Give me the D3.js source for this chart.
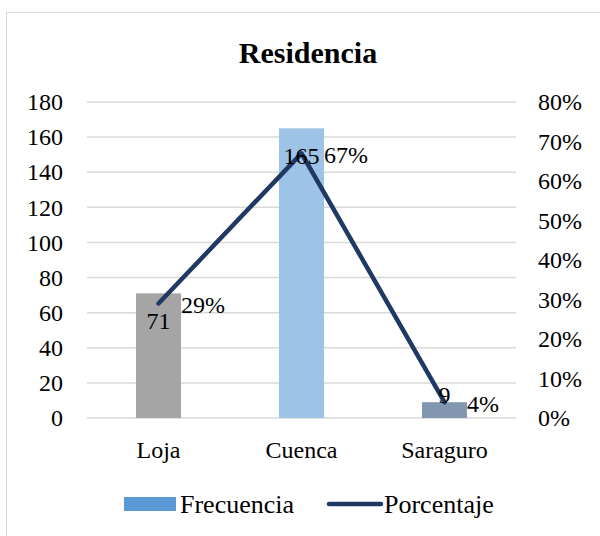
<!DOCTYPE html>
<html>
<head>
<meta charset="utf-8">
<script src="https://cdn.jsdelivr.net/npm/d3@7"></script>
<style>
  body { margin: 0; background: #fff; }
  text { font-family: "Liberation Serif", "Times New Roman", serif; fill: #000; }
</style>
</head>
<body>
<div id="chart"></div>
<script>
// datos
var categorias = ["Loja", "Cuenca", "Saraguro"];
var frecuencia = [71, 165, 9];
var porcentaje = [0.29, 0.67, 0.04];
var colores = ["#a5a5a5", "#9dc3e6", "#8497b0"];
var ticksIzq = [0, 20, 40, 60, 80, 100, 120, 140, 160, 180];
var ticksDer = [0, 0.1, 0.2, 0.3, 0.4, 0.5, 0.6, 0.7, 0.8];

var width = 600, height = 536;
var margin = {top: 102, right: 84, bottom: 118, left: 87};
var fuente = "Liberation Serif, Times New Roman, serif";

var svg = d3.select("#chart").append("svg")
    .attr("width", width)
    .attr("height", height);

// marco
svg.append("rect")
    .attr("x", 6.5).attr("y", 12.5)
    .attr("width", 620).attr("height", 540)
    .attr("fill", "none")
    .attr("stroke", "#d9d9d9");

var x = d3.scaleBand()
    .domain(categorias)
    .range([margin.left, width - margin.right])
    .paddingInner(0.685)
    .paddingOuter(0.3425);

var y = d3.scaleLinear()
    .domain([0, 180])
    .range([height - margin.bottom, margin.top]);

var y2 = d3.scaleLinear()
    .domain([0, 0.8])
    .range([height - margin.bottom, margin.top]);

// titulo
svg.append("text")
    .attr("x", 308).attr("y", 63)
    .attr("text-anchor", "middle")
    .style("font-size", "30px")
    .style("font-weight", "bold")
    .text("Residencia");

// lineas de cuadricula
svg.append("g")
    .selectAll("line")
    .data(ticksIzq)
  .enter().append("line")
    .attr("x1", margin.left)
    .attr("x2", width - margin.right)
    .attr("y1", function(d) { return y(d); })
    .attr("y2", function(d) { return y(d); })
    .attr("stroke", "#d9d9d9")
    .attr("stroke-width", 1.5);

function estiloEje(g) {
  g.attr("font-family", fuente).attr("font-size", 24);
  g.select(".domain").remove();
  g.selectAll("text").attr("fill", "#000").style("font-family", fuente).style("font-size", "24px");
}

// eje izquierdo
svg.append("g")
    .attr("transform", "translate(" + margin.left + ",0)")
    .call(d3.axisLeft(y).tickValues(ticksIzq).tickSize(0).tickPadding(24))
    .call(estiloEje);

// eje derecho
svg.append("g")
    .attr("transform", "translate(" + (width - margin.right) + ",0)")
    .call(d3.axisRight(y2).tickValues(ticksDer).tickSize(0).tickPadding(22).tickFormat(d3.format(".0%")))
    .call(estiloEje);

// eje x
svg.append("g")
    .attr("transform", "translate(0," + (height - margin.bottom) + ")")
    .call(d3.axisBottom(x).tickSize(0).tickPadding(23))
    .call(estiloEje);

// barras
svg.selectAll(".bar")
    .data(frecuencia)
  .enter().append("rect")
    .attr("class", "bar")
    .attr("x", function(d, i) { return x(categorias[i]); })
    .attr("y", function(d) { return y(d); })
    .attr("width", x.bandwidth())
    .attr("height", function(d) { return y(0) - y(d); })
    .attr("fill", function(d, i) { return colores[i]; });

// linea
var linea = d3.line()
    .x(function(d, i) { return x(categorias[i]) + x.bandwidth() / 2; })
    .y(function(d) { return y2(d); });

svg.append("path")
    .datum(porcentaje)
    .attr("d", linea)
    .attr("fill", "none")
    .attr("stroke", "#203864")
    .attr("stroke-width", 4.5)
    .attr("stroke-linecap", "round")
    .attr("stroke-linejoin", "round");

// etiquetas de barras
svg.selectAll(".lblBar")
    .data(frecuencia)
  .enter().append("text")
    .attr("class", "lblBar")
    .attr("x", function(d, i) { return x(categorias[i]) + x.bandwidth() / 2; })
    .attr("y", function(d) { return Math.min(y(d) + 36, y(0) - 15); })
    .attr("text-anchor", "middle")
    .style("font-size", "24px")
    .text(function(d) { return d; });

// etiquetas de porcentaje
svg.selectAll(".lblPct")
    .data(porcentaje)
  .enter().append("text")
    .attr("class", "lblPct")
    .attr("x", function(d, i) { return x(categorias[i]) + x.bandwidth(); })
    .attr("y", function(d) { return y2(d) + 10; })
    .style("font-size", "24px")
    .text(function(d) { return d3.format(".0%")(d); });

// leyenda
var ley = svg.append("g");
ley.append("rect")
    .attr("x", 124).attr("y", 497)
    .attr("width", 52).attr("height", 14)
    .attr("fill", "#5b9bd5");
ley.append("text")
    .attr("x", 180).attr("y", 513)
    .style("font-size", "26px")
    .text("Frecuencia");
ley.append("line")
    .attr("x1", 329).attr("x2", 381)
    .attr("y1", 504).attr("y2", 504)
    .attr("stroke", "#203864")
    .attr("stroke-width", 4.5)
    .attr("stroke-linecap", "round");
ley.append("text")
    .attr("x", 384).attr("y", 513)
    .style("font-size", "26px")
    .text("Porcentaje");
</script>
</body>
</html>
